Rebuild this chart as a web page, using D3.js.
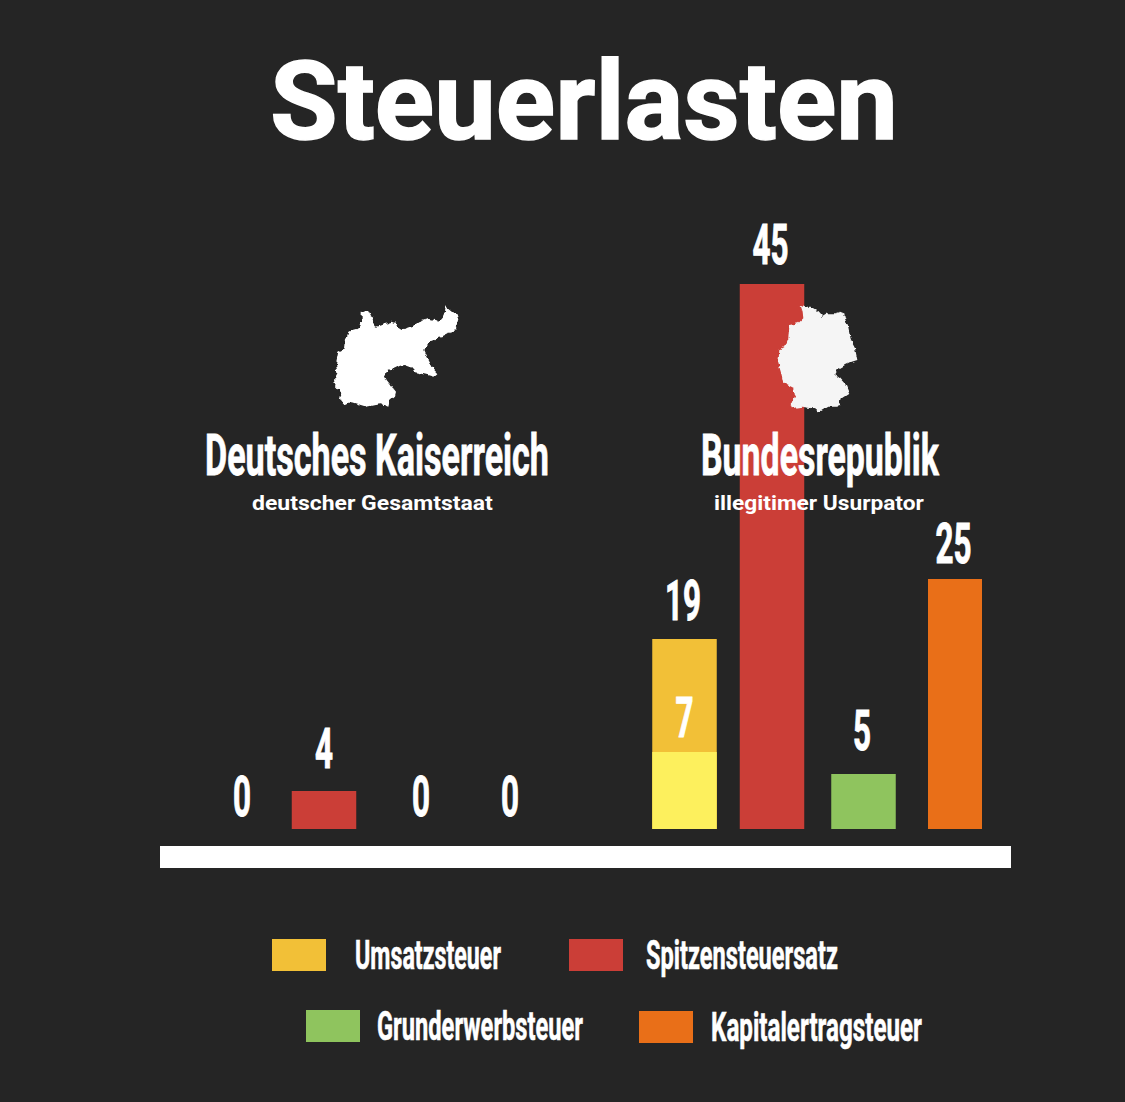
<!DOCTYPE html>
<html>
<head>
<meta charset="utf-8">
<title>Steuerlasten</title>
<script src="https://cdn.jsdelivr.net/npm/d3@7"></script>
<style>
	html, body { margin: 0; padding: 0; background: #252525; }
	svg { display: block; }
	text { font-family: Roboto, "Liberation Sans", sans-serif; font-weight: 700; fill: #fff; }
</style>
</head>
<body>
<svg id="chart" width="1125" height="1102"></svg>
<script>
// taxes in legend order
let arrTaxes = ["Umsatzsteuer", "Spitzensteuersatz", "Grunderwerbsteuer", "Kapitalertragsteuer"];
let arrTaxColors = ["#f2c037", "#cb3e37", "#8fc45e", "#e96f18"];

// printed numbers
let arrKaiserLabels = [0, 4, 0, 0];
let arrBundLabels = [19, 45, 5, 25];
let intReducedLabel = 7;

// the bars of the original are not to scale, so these are read from the bar heights
let arrKaiserHeights = [0, 3.8, 0, 0];
let arrBundHeights = [19, 54.5, 5.5, 25];
let numReducedHeight = 7.7;

// map outlines
let arrKaiserOutline = [[125,50],[135,46],[145,52],[150,62],[160,68],[163,80],[168,95],[178,92],[190,88],[205,85],[218,80],[228,85],[232,100],[245,108],[262,98],[280,92],[295,82],[315,75],[330,72],[345,75],[355,80],[368,65],[375,50],[378,30],[385,42],[395,50],[410,55],[415,72],[410,90],[412,102],[395,105],[385,118],[370,125],[350,130],[335,140],[320,150],[313,165],[322,185],[330,200],[340,222],[352,235],[340,245],[322,240],[300,235],[285,232],[270,215],[255,210],[240,212],[225,220],[205,228],[192,238],[200,255],[212,270],[228,290],[225,302],[210,315],[205,335],[185,328],[165,330],[140,335],[115,328],[95,322],[70,328],[60,315],[65,295],[45,270],[42,255],[52,235],[48,205],[55,170],[75,160],[78,135],[85,110],[105,105],[120,95],[125,75]];
let arrBundOutline = [[182,32],[195,38],[215,38],[232,48],[248,65],[265,55],[285,55],[300,50],[312,55],[318,80],[325,100],[332,135],[345,160],[352,195],[335,200],[315,210],[290,225],[283,238],[300,250],[318,270],[328,295],[305,310],[300,330],[285,335],[265,335],[240,350],[215,340],[185,335],[155,340],[152,330],[165,300],[160,280],[130,265],[125,240],[115,205],[118,165],[135,155],[145,130],[148,90],[175,85],[190,70],[188,50]];

let svg = d3.select("#chart");

/* frayed edge for the maps */
let filter = svg.append("defs").append("filter")
	.attr("id", "rough")
	.attr("x", "-10%").attr("y", "-10%")
	.attr("width", "120%").attr("height", "120%")
;
filter.append("feTurbulence")
	.attr("type", "fractalNoise")
	.attr("baseFrequency", 0.18)
	.attr("numOctaves", 2)
	.attr("seed", 4)
;
filter.append("feDisplacementMap")
	.attr("in", "SourceGraphic")
	.attr("scale", 5)
	.attr("xChannelSelector", "R")
	.attr("yChannelSelector", "G")
;

let y = d3.scaleLinear().domain([0, 60]).range([829, 229]);

let keys = arrTaxes.map((t) => "K " + t).concat(arrTaxes.map((t) => "B " + t));
let x = d3.scaleOrdinal().domain(keys).range([242, 324, 421, 510, 684.5, 772, 863.5, 955]);
let barWidth = d3.scaleOrdinal().domain(arrTaxes).range([64.5, 64.5, 64.5, 54]);
let color = d3.scaleOrdinal().domain(arrTaxes).range(arrTaxColors);

let datum = [];
arrTaxes.forEach((t, i) => datum.push({key: "K " + t, tax: t, height: arrKaiserHeights[i], label: arrKaiserLabels[i]}));
arrTaxes.forEach((t, i) => datum.push({key: "B " + t, tax: t, height: arrBundHeights[i], label: arrBundLabels[i]}));

/* bars */
svg.append("g").selectAll("rect")
	.data(datum.filter((d) => d.height > 0))
	.join("rect")
	.attr("x", (d) => x(d.key) - barWidth(d.tax) / 2)
	.attr("width", (d) => barWidth(d.tax))
	.attr("y", (d) => y(d.height))
	.attr("height", (d) => y(0) - y(d.height))
	.attr("fill", (d) => color(d.tax))
;

/* reduced rate sits at the foot of the Umsatzsteuer bar */
svg.append("rect")
	.attr("x", x("B Umsatzsteuer") - barWidth("Umsatzsteuer") / 2)
	.attr("width", barWidth("Umsatzsteuer"))
	.attr("y", y(numReducedHeight))
	.attr("height", y(0) - y(numReducedHeight))
	.attr("fill", "#fdf05d")
;

/* base line */
svg.append("rect").attr("x", 160).attr("y", 846).attr("width", 851).attr("height", 22).attr("fill", "#fff");

/* number above each bar */
let labelGap = {"K Umsatzsteuer": 13, "K Spitzensteuersatz": 23, "K Grunderwerbsteuer": 13, "K Kapitalertragsteuer": 13,
	"B Umsatzsteuer": 19, "B Spitzensteuersatz": 20, "B Grunderwerbsteuer": 24, "B Kapitalertragsteuer": 16};
let labelShift = {"B Umsatzsteuer": -1.5, "B Spitzensteuersatz": -1.5, "B Grunderwerbsteuer": -1.5, "B Kapitalertragsteuer": -1.5};

function narrowNumber(g, strText, numX, numY) {
	g.append("text")
		.attr("text-anchor", "middle")
		.attr("font-size", 56)
		.attr("stroke", "#fff")
		.attr("stroke-width", 1)
		.attr("transform", "translate(" + numX + "," + numY + ") scale(0.56,1)")
		.text(strText)
	;
}
let gLabels = svg.append("g");
datum.forEach((d) => {
	narrowNumber(gLabels, d.label, x(d.key) + (labelShift[d.key] || 0), y(d.height) - labelGap[d.key]);
});
narrowNumber(gLabels, intReducedLabel, x("B Umsatzsteuer"), 737);

/* text squeezed to the condensed width of the original */
function fitText(strText, numX, numY, numWidth, numSize, strFill, numStroke) {
	let t = svg.append("text")
		.attr("font-size", numSize)
		.attr("fill", strFill || "#fff")
		.attr("stroke", strFill || "#fff")
		.attr("stroke-width", numStroke || 0)
		.text(strText)
	;
	let sx = numWidth / t.node().getComputedTextLength();
	t.attr("transform", "translate(" + numX + "," + numY + ") scale(" + sx + ",1)");
	return t;
}

fitText("Steuerlasten", 270, 139, 628, 109, "#fff", 1.5);

/* maps, 3 outline units are one pixel */
function drawMap(arrOutline, numX, numY, strFill) {
	let mx = d3.scaleLinear().domain([0, 3]).range([numX, numX + 1]);
	let my = d3.scaleLinear().domain([0, 3]).range([numY, numY + 1]);
	svg.append("path")
		.attr("d", d3.line().x((d) => mx(d[0])).y((d) => my(d[1])).curve(d3.curveLinearClosed)(arrOutline))
		.attr("fill", strFill)
		.attr("filter", "url(#rough)")
	;
}
drawMap(arrKaiserOutline, 320, 295, "#fff");
drawMap(arrBundOutline, 740, 295, "#f5f5f5");

fitText("Deutsches Kaiserreich", 205, 475, 344, 57, "#fff", 0.8);
fitText("Bundesrepublik", 701, 475, 238, 57, "#fff", 0.8);
fitText("deutscher Gesamtstaat", 252, 510, 241, 21, "#f2fff2");
fitText("illegitimer Usurpator", 714, 510, 210, 21, "#f2fff2");

/* legend */
let swatchX = d3.scaleOrdinal().domain(arrTaxes).range([272, 569, 306, 639]);
let swatchY = d3.scaleOrdinal().domain(arrTaxes).range([939, 939, 1010, 1011]);
let legendX = d3.scaleOrdinal().domain(arrTaxes).range([355, 646, 377, 711]);
let legendW = d3.scaleOrdinal().domain(arrTaxes).range([146, 192, 206, 211]);

svg.append("g").selectAll("rect")
	.data(arrTaxes)
	.join("rect")
	.attr("x", (t) => swatchX(t))
	.attr("y", (t) => swatchY(t))
	.attr("width", 54)
	.attr("height", 32)
	.attr("fill", (t) => color(t))
;
arrTaxes.forEach((t) => {
	fitText(t, legendX(t), swatchY(t) + 30, legendW(t), 41, "#fff", 0.6);
});
</script>
</body>
</html>
